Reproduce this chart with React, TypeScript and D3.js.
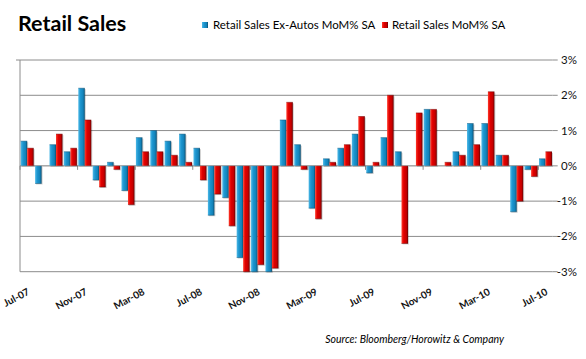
import React from "react";
import * as d3 from "d3";

const months = [
  "Jul-07","Aug-07","Sep-07","Oct-07","Nov-07","Dec-07","Jan-08","Feb-08","Mar-08","Apr-08","May-08","Jun-08",
  "Jul-08","Aug-08","Sep-08","Oct-08","Nov-08","Dec-08","Jan-09","Feb-09","Mar-09","Apr-09","May-09","Jun-09",
  "Jul-09","Aug-09","Sep-09","Oct-09","Nov-09","Dec-09","Jan-10","Feb-10","Mar-10","Apr-10","May-10","Jun-10","Jul-10",
];
const exAutos = [
  0.7,-0.5,0.6,0.4,2.2,-0.4,0.1,-0.7,0.8,1.0,0.7,0.9,
  0.5,-1.4,-0.9,-2.6,-3.0,-3.0,1.3,0.6,-1.2,0.2,0.5,0.9,
  -0.2,0.8,0.4,0.0,1.6,0.0,0.4,1.2,1.2,0.3,-1.3,-0.1,0.2,
];
const total = [
  0.5,0.0,0.9,0.5,1.3,-0.6,-0.1,-1.1,0.4,0.4,0.3,0.1,
  -0.4,-0.8,-1.7,-3.0,-2.8,-2.9,1.8,-0.1,-1.5,0.1,0.6,1.4,
  0.1,2.0,-2.2,1.5,1.6,0.1,0.3,0.6,2.1,0.3,-1.0,-0.3,0.4,
];
const yTicks = [-3,-2,-1,0,1,2,3];
const labelMonths = ["Jul-07","Nov-07","Mar-08","Jul-08","Nov-08","Mar-09","Jul-09","Nov-09","Mar-10","Jul-10"];
const seriesNames = ["Retail Sales Ex-Autos MoM% SA","Retail Sales MoM% SA"];

const W = 586, H = 359;
const left = 20, right = 552.7, top = 60, bottom = 271.7;
const FONT = "Lato, 'Open Sans', sans-serif";

export default function App() {
  const x = d3.scaleBand<string>().domain(months).range([left, right]).paddingInner(0.1).paddingOuter(0.05);
  const step = x.step();
  const x1 = d3.scaleBand<number>().domain([0, 1]).range([0, x.bandwidth()]);
  const y = d3.scaleLinear().domain([-3, 3]).range([bottom, top]);
  const yc = (v: number) => y(Math.max(-3, Math.min(3, v)));

  const series = [
    { vals: exAutos, grad: "gBlue", shade: "#0b4f73" },
    { vals: total, grad: "gRed", shade: "#6e0000" },
  ];

  return (
    <svg width={W} height={H} style={{ display: "block", position: "absolute", left: 0, top: 0, background: "#fff" }}>
      <defs>
        <linearGradient id="gBlue" x1="0" x2="1" y1="0" y2="0">
          <stop offset="0" stopColor="#4db8e6" />
          <stop offset="0.35" stopColor="#1c95cf" />
          <stop offset="0.75" stopColor="#1382b8" />
          <stop offset="1" stopColor="#0a4d70" />
        </linearGradient>
        <linearGradient id="gRed" x1="0" x2="1" y1="0" y2="0">
          <stop offset="0" stopColor="#ff3a2a" />
          <stop offset="0.35" stopColor="#e00000" />
          <stop offset="0.75" stopColor="#c40000" />
          <stop offset="1" stopColor="#6a0000" />
        </linearGradient>
      </defs>

      <text x={18} y={31} fontFamily={FONT} fontWeight="bold" fontSize={21.5} fill="#000">Retail Sales</text>

      {/* legend */}
      <rect x={202} y={22} width={6} height={6} fill="url(#gBlue)" />
      <text x={213} y={29} fontFamily={FONT} fontSize={11.5} fill="#000">{seriesNames[0]}</text>
      <rect x={382} y={22} width={6} height={6} fill="url(#gRed)" />
      <text x={392} y={29} fontFamily={FONT} fontSize={11.5} fill="#000">{seriesNames[1]}</text>

      {/* gridlines */}
      {yTicks.map((t) => (
        <g key={t}>
          <line x1={left} x2={right} y1={y(t)} y2={y(t)} stroke="#8c8c8c" strokeWidth={1} />
          <line x1={right} x2={right + 5} y1={y(t)} y2={y(t)} stroke="#8c8c8c" strokeWidth={1} />
          <text x={577} y={y(t) + 4} textAnchor="end" fontFamily={FONT} fontSize={11.5} fill="#111">{`${t}%`}</text>
        </g>
      ))}
      <line x1={left} x2={left} y1={top} y2={bottom} stroke="#8c8c8c" strokeWidth={1} />
      <line x1={left - 4} x2={left} y1={top} y2={top} stroke="#8c8c8c" />
      {/* category ticks */}
      {labelMonths.map((m) => {
        const bx = (x(m) as number) - (step - x.bandwidth()) / 2;
        return <line key={"t" + m} x1={bx} x2={bx} y1={y(0)} y2={y(0) + 4} stroke="#8c8c8c" />;
      })}

      {/* bars */}
      {series.map((s, si) =>
        months.map((m, i) => {
          const v = s.vals[i];
          if (v === 0) return null;
          const bx = (x(m) as number) + (x1(si) as number);
          const bw = x1.bandwidth();
          const y0 = y(0);
          const yv = yc(v);
          const yTop = Math.min(y0, yv);
          const h = Math.abs(yv - y0);
          return (
            <g key={si + "-" + m}>
              <rect x={bx + 1} y={yTop + 1} width={bw} height={h} fill="#000" opacity={0.18} />
              <rect x={bx} y={yTop} width={bw} height={h} fill={`url(#${s.grad})`} />
              <line x1={bx} x2={bx + bw} y1={yv} y2={yv} stroke={s.shade} strokeWidth={0.8} opacity={0.6} />
            </g>
          );
        })
      )}
      <line x1={left} x2={right} y1={y(0)} y2={y(0)} stroke="#8c8c8c" strokeWidth={0.6} opacity={0.5} />

      {/* x labels */}
      {labelMonths.map((m) => {
        const cx = (x(m) as number) + x.bandwidth() / 2 + 3;
        return (
          <text key={m} transform={`translate(${cx},${294}) rotate(-28)`} textAnchor="end"
            fontFamily={FONT} fontWeight="bold" fontSize={10} fill="#111">{m}</text>
        );
      })}

      <text x={504} y={343} textAnchor="end" fontFamily={FONT} fontStyle="italic" fontSize={10.5} fill="#000">
        Source: Bloomberg/Horowitz &amp; Company
      </text>
    </svg>
  );
}
